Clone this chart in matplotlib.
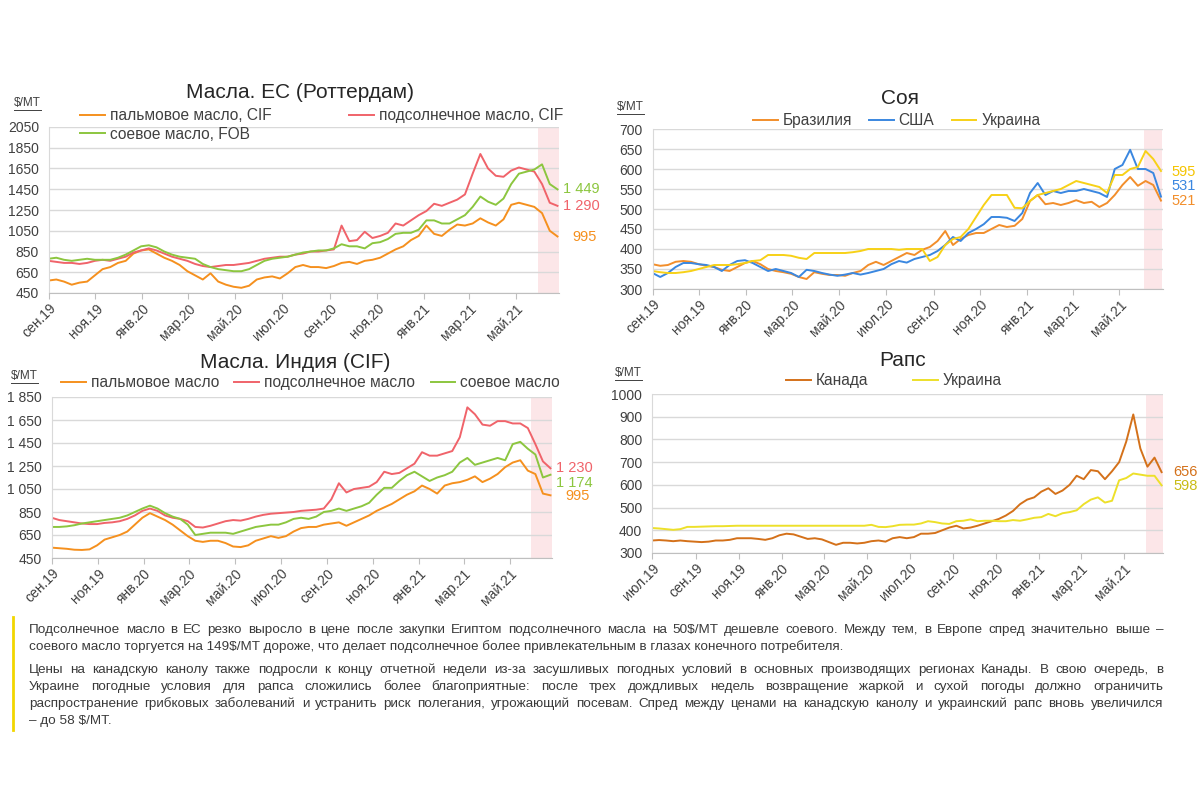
import matplotlib
matplotlib.use("Agg")
import matplotlib.pyplot as plt
from matplotlib.lines import Line2D
from matplotlib.ticker import FuncFormatter
import pandas as pd

plt.rcParams["font.family"] = ["Liberation Sans", "DejaVu Sans"]

W, H = 1200, 800

# ---- data (10-day points) ----
months_sep = ["сен.19", "ноя.19", "янв.20", "мар.20", "май.20", "июл.20",
              "сен.20", "ноя.20", "янв.21", "мар.21", "май.21"]
months_jul = ["июл.19"] + months_sep

eu_palm = [570, 580, 560, 530, 550, 560, 620, 680, 700, 740,
           760, 830, 860, 870, 830, 790, 760, 720, 660, 620,
           580, 640, 560, 530, 510, 500, 520, 580, 600, 610,
           590, 640, 700, 720, 700, 700, 690, 710, 740, 750,
           730, 760, 770, 790, 830, 870, 900, 960, 1000, 1100,
           1020, 1000, 1060, 1110, 1100, 1120, 1170, 1130, 1100, 1160,
           1300, 1320, 1300, 1280, 1220, 1050, 995]
eu_sun = [760, 750, 740, 740, 730, 740, 760, 770, 760, 780,
          800, 840, 860, 880, 860, 830, 800, 780, 760, 730,
          710, 700, 710, 720, 720, 730, 740, 760, 780, 790,
          800, 800, 820, 830, 850, 850, 860, 870, 1100, 950,
          960, 1040, 980, 1000, 1030, 1120, 1100, 1150, 1200, 1240,
          1310, 1290, 1320, 1350, 1400, 1600, 1790, 1650, 1580, 1570,
          1630, 1660, 1640, 1620, 1500, 1320, 1290]
eu_soy = [780, 790, 770, 760, 770, 780, 770, 770, 770, 790,
          820, 860, 900, 910, 890, 850, 820, 800, 790, 780,
          730, 700, 680, 670, 660, 660, 680, 720, 760, 780,
          790, 800, 820, 840, 850, 860, 860, 880, 920, 900,
          900, 880, 930, 940, 970, 1020, 1030, 1030, 1060, 1150,
          1150, 1120, 1120, 1160, 1200, 1280, 1380, 1330, 1300, 1360,
          1500, 1600, 1620, 1640, 1690, 1500, 1449]

soy_br = [362, 358, 360, 368, 370, 368, 362, 358, 355, 348,
          345, 355, 365, 370, 362, 350, 345, 342, 338, 330,
          325, 342, 338, 335, 335, 333, 340, 345, 360, 368,
          360, 370, 380, 390, 385, 398, 405, 420, 445, 410,
          425, 435, 440, 440, 450, 460, 455, 458, 475, 520,
          535, 512, 515, 510, 515, 522, 515, 518, 505, 515,
          535, 560, 580, 558, 570, 560, 521]
soy_us = [340, 330, 340, 355, 365, 365, 362, 360, 355, 345,
          360, 370, 372, 365, 355, 345, 350, 345, 340, 330,
          348, 345, 340, 336, 333, 336, 340, 336, 340, 345,
          350, 362, 370, 366, 375, 380, 385, 395, 410, 430,
          420, 440, 450, 462, 480, 480, 478, 470, 490, 540,
          565, 535, 545, 540, 545, 545, 550, 545, 540, 530,
          600, 610, 648, 600, 600, 590, 531]
soy_ua = [345, 342, 340, 340, 342, 345, 350, 355, 360, 360,
          360, 362, 365, 370, 372, 385, 385, 385, 383, 378,
          375, 390, 390, 390, 390, 390, 392, 395, 400, 400,
          400, 400, 398, 400, 400, 400, 370, 380, 410, 425,
          430, 450, 480, 510, 535, 535, 535, 503, 502, 520,
          535, 540, 545, 550, 560, 570, 565, 560, 555, 540,
          585, 585, 600, 605, 645, 625, 595]

in_palm = [540, 535, 530, 522, 520, 525, 560, 610, 630, 650,
           680, 740, 800, 840, 810, 780, 740, 690, 640, 600,
           590, 600, 600, 580, 550, 545, 560, 600, 620, 640,
           625, 640, 680, 710, 720, 720, 740, 750, 760, 730,
           760, 790, 820, 860, 890, 920, 960, 1000, 1030, 1080,
           1050, 1010, 1080, 1100, 1110, 1130, 1160, 1110, 1140, 1180,
           1240, 1280, 1300, 1210, 1180, 1010, 995]
in_sun = [800, 780, 770, 760, 750, 745, 745, 755, 760, 770,
          790, 820, 860, 880, 860, 820, 800, 790, 770, 720,
          715, 730, 750, 770, 780, 775, 790, 810, 825, 835,
          840, 845, 850, 860, 865, 870, 880, 960, 1100, 1020,
          1050, 1060, 1070, 1110, 1200, 1180, 1190, 1230, 1270, 1370,
          1340, 1340, 1360, 1380, 1500, 1760, 1700, 1610, 1600, 1640,
          1640, 1620, 1620, 1580, 1440, 1290, 1230]
in_soy = [720, 720, 725, 735, 750, 760, 770, 780, 790, 800,
          820, 850, 880, 905, 880, 840, 810, 790, 740, 650,
          660, 670, 670, 670, 660, 680, 700, 720, 730, 740,
          740, 760, 790, 800, 790, 810, 850, 860, 880, 860,
          880, 900, 930, 1000, 1060, 1060, 1120, 1170, 1200, 1160,
          1120, 1150, 1170, 1200, 1280, 1320, 1260, 1280, 1300, 1320,
          1300, 1440, 1460, 1400, 1350, 1150, 1174]

rape_ca = [355, 357, 355, 352, 355, 352, 350, 348, 350, 355,
           355, 358, 365, 365, 365, 362, 358, 365, 378, 385,
           382, 372, 362, 365, 360, 348, 336, 345, 345, 342,
           345, 352, 355, 350, 365, 370, 365, 370, 385, 385,
           388, 400, 412, 420, 408, 412, 420, 430, 440, 450,
           465, 485, 515, 535, 545, 570, 585, 560, 575, 600,
           640, 625, 665, 660, 625, 660, 700, 790, 910, 760,
           680, 720, 656]
rape_ua = [410, 408, 405, 402, 405, 415, 415, 416, 417, 418,
           418, 419, 420, 420, 420, 420, 420, 420, 420, 420,
           420, 420, 420, 420, 420, 420, 420, 420, 420, 420,
           420, 424, 415, 414, 418, 424, 425, 425, 430, 440,
           436, 430, 428, 440, 442, 448, 440, 442, 442, 440,
           440, 445, 442, 448, 455, 458, 472, 462, 475, 480,
           488, 515, 535, 545, 522, 530, 620, 630, 650, 645,
           640, 640, 598]

note_lines = [
    "Подсолнечное масло в ЕС резко выросло в цене после закупки Египтом подсолнечного масла на 50$/MT дешевле соевого. Между тем, в Европе спред значительно выше –",
    "соевого масло торгуется на 149$/MT дороже, что делает подсолнечное более привлекательным в глазах конечного потребителя.",
    "Цены на канадскую канолу также подросли к концу отчетной недели из-за засушливых погодных условий в основных производящих регионах Канады. В свою очередь, в",
    "Украине погодные условия для рапса сложились более благоприятные: после трех дождливых недель возвращение жаркой и сухой погоды должно ограничить",
    "распространение грибковых заболеваний и устранить риск полегания, угрожающий посевам. Спред между ценами на канадскую канолу и украинский рапс вновь увеличился",
    "– до 58 $/MT.",
]

dates_sep = pd.date_range("2019-09-01", "2021-06-24", periods=len(eu_palm))
dates_jul = pd.date_range("2019-07-01", "2021-06-24", periods=len(rape_ca))
end = pd.Timestamp("2021-06-26")

ORANGE, RED, GREEN = "#F5901E", "#F0636A", "#8CC63F"
BLUE, YELLOW = "#3A87E0", "#F7D117"
CA, UA = "#D4711A", "#EDE02A"
SHADE = "#FCE6E8"
TXT = "#404040"
LW = 1.4

fig = plt.figure(figsize=(12, 8), dpi=100)
renderer = fig.canvas.get_renderer()


def fx(x):
    return x / W


def fy(y):
    return 1 - y / H


def make_axes(x0, y0, x1, y1):
    return fig.add_axes([fx(x0), fy(y1), (x1 - x0) / W, (y1 - y0) / H])


def style(ax, start, shade_from, ylim, step, labels, fmt=None):
    ax.set_xlim(pd.Timestamp(start), end)
    ax.axvspan(pd.Timestamp(shade_from), end, color=SHADE, lw=0, zorder=0)
    ax.set_ylim(*ylim)
    ax.set_yticks(range(ylim[0], ylim[1] + 1, step))
    ax.yaxis.grid(True, color="#d9d9d9", lw=1)
    ax.set_axisbelow(True)
    for s in ("top", "right"):
        ax.spines[s].set_visible(False)
    ax.spines["left"].set_color("#d9d9d9")
    ax.spines["bottom"].set_color("#bfbfbf")
    ax.set_xticks(pd.date_range(start, periods=len(labels), freq="2MS"))
    ax.set_xticklabels(labels, rotation=45, ha="right", rotation_mode="anchor",
                       fontsize=10, color=TXT)
    ax.tick_params(axis="x", length=4, color="#bfbfbf", pad=2)
    ax.tick_params(axis="y", length=0, pad=7, labelsize=10, labelcolor=TXT)
    if fmt:
        ax.yaxis.set_major_formatter(fmt)


def legend(ax, handles, x, y, ncol, colsp):
    leg = ax.legend(handles=handles, loc="upper left", bbox_to_anchor=(fx(x), fy(y)),
                    bbox_transform=fig.transFigure, ncol=ncol, frameon=False,
                    fontsize=11.2, handlelength=1.6, handletextpad=0.3,
                    columnspacing=colsp, labelspacing=0.25, borderpad=0, borderaxespad=0)
    for t in leg.get_texts():
        t.set_color(TXT)


def unit(x, y):
    t = fig.text(fx(x), fy(y), "$/MT", fontsize=8.5, color=TXT, va="center")
    bb = t.get_window_extent(renderer)
    fig.add_artist(Line2D([bb.x0 / W, bb.x1 / W], [(bb.y0 - 1) / H] * 2,
                          color=TXT, lw=0.7, transform=fig.transFigure))


def title(x, y, s):
    fig.text(fx(x), fy(y), s, fontsize=15, ha="center", va="center", color="#262626")


def value(x, y, s, color, ha="left"):
    fig.text(fx(x), fy(y), s, fontsize=10.5, ha=ha, va="center", color=color)


spaced = FuncFormatter(lambda v, p: f"{int(v):,}".replace(",", " "))

# ---- EU oils ----
ax1 = make_axes(48.6, 127, 559, 293)
l_palm, = ax1.plot(dates_sep, eu_palm, color=ORANGE, lw=LW, label="пальмовое масло, CIF")
l_sun, = ax1.plot(dates_sep, eu_sun, color=RED, lw=LW, label="подсолнечное масло, CIF")
l_soy, = ax1.plot(dates_sep, eu_soy, color=GREEN, lw=LW, label="соевое масло, FOB")
style(ax1, "2019-09-01", "2021-05-30", (450, 2050), 200, months_sep)
legend(ax1, [l_palm, l_soy, l_sun], 80, 108, 2, 5.0)
title(300, 93, "Масла. ЕС (Роттердам)")
unit(14, 103)
value(563, 189, "1 449", GREEN)
value(563, 206, "1 290", RED)
value(597, 237, "995", ORANGE, ha="right")

# ---- Soybeans ----
ax2 = make_axes(652.5, 129, 1162.5, 289)
h = [ax2.plot(dates_sep, soy_br, color="#F28E2B", lw=LW, label="Бразилия")[0],
     ax2.plot(dates_sep, soy_us, color=BLUE, lw=LW, label="США")[0],
     ax2.plot(dates_sep, soy_ua, color=YELLOW, lw=LW, label="Украина")[0]]
style(ax2, "2019-09-01", "2021-06-02", (300, 700), 50, months_sep)
legend(ax2, h, 753, 113, 3, 1.1)
title(900, 99, "Соя")
unit(617, 107)
value(1171, 172, "595", "#F5C400")
value(1171, 186, "531", BLUE)
value(1171, 201, "521", "#F28E2B")

# ---- India oils ----
ax3 = make_axes(51.7, 397, 552, 558)
h = [ax3.plot(dates_sep, in_palm, color=ORANGE, lw=LW, label="пальмовое масло")[0],
     ax3.plot(dates_sep, in_sun, color=RED, lw=LW, label="подсолнечное масло")[0],
     ax3.plot(dates_sep, in_soy, color=GREEN, lw=LW, label="соевое масло")[0]]
style(ax3, "2019-09-01", "2021-05-29", (450, 1850), 200, months_sep, spaced)
legend(ax3, h, 61, 375, 3, 1.0)
title(295, 363, "Масла. Индия (CIF)")
unit(11, 376)
value(556, 468, "1 230", RED)
value(556, 483, "1 174", GREEN)
value(590, 496, "995", ORANGE, ha="right")

# ---- Rapeseed ----
ax4 = make_axes(652, 394, 1163, 553)
h = [ax4.plot(dates_jul, rape_ca, color=CA, lw=LW, label="Канада")[0],
     ax4.plot(dates_jul, rape_ua, color=UA, lw=LW, label="Украина")[0]]
style(ax4, "2019-07-01", "2021-06-02", (300, 1000), 100, months_jul)
legend(ax4, h, 786, 373, 2, 2.9)
title(903, 361, "Рапс")
unit(615, 373)
value(1173, 472, "656", CA)
value(1173, 486, "598", "#C9BC16")

# ---- commentary ----
fig.add_artist(Line2D([fx(13), fx(13)], [fy(617), fy(730)], color="#F2D600",
                      lw=2, transform=fig.transFigure))
note_y = [630, 647, 670, 687, 704, 721]
justify = [True, False, True, True, True, False]
x_left, x_right = 29, 1163
for line, y, just in zip(note_lines, note_y, justify):
    kw = dict(fontsize=9.7, color="#3a3a3a", va="center", ha="left")
    if not just:
        fig.text(fx(x_left), fy(y), line, **kw)
        continue
    words = line.split(" ")
    arts = [fig.text(0, fy(y), w, **kw) for w in words]
    widths = [a.get_window_extent(renderer).width for a in arts]
    gap = (x_right - x_left - sum(widths)) / (len(words) - 1)
    x = x_left
    for a, w in zip(arts, widths):
        a.set_x(fx(x))
        x += w + gap

fig.savefig("out.png", dpi=100)
